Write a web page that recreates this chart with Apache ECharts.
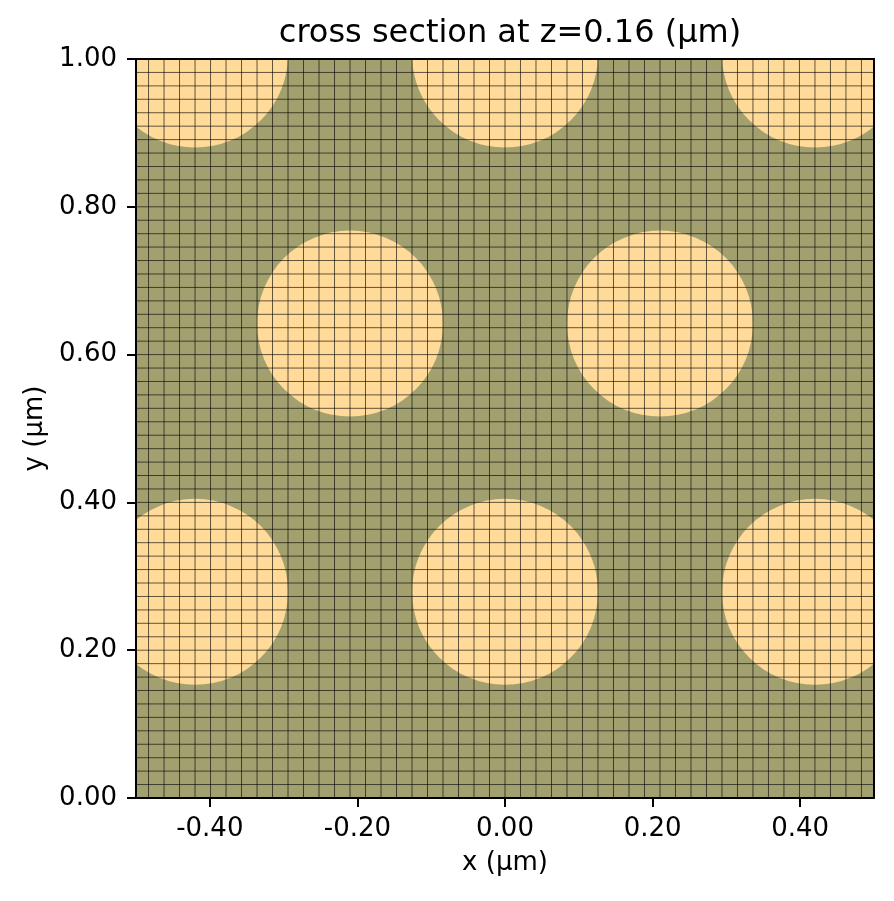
<!DOCTYPE html>
<html>
<head>
<meta charset="utf-8">
<script src="https://cdn.jsdelivr.net/npm/echarts@6/dist/echarts.min.js"></script>
<style>
  html, body { margin: 0; padding: 0; background: #fff; }
  #chart { width: 894px; height: 901px; }
</style>
</head>
<body>
<div id="chart"></div>
<script>
// circle centres (um) and radius
const circleX = [-0.42, 0.00, 0.42, -0.21, 0.21, -0.42, 0.00, 0.42];
const circleY = [0.279, 0.279, 0.279, 0.642, 0.642, 1.006, 1.006, 1.006];
const circleR = [0.126, 0.126, 0.126, 0.126, 0.126, 0.126, 0.126, 0.126];

// mesh lines
const xGrid = [-0.483, -0.462, -0.441, -0.420, -0.399, -0.378, -0.357, -0.336, -0.315, -0.294,
  -0.273, -0.252, -0.231, -0.210, -0.189, -0.168, -0.147, -0.126, -0.105, -0.084, -0.063,
  -0.042, -0.021, 0.000, 0.021, 0.042, 0.063, 0.084, 0.105, 0.126, 0.147, 0.168, 0.189,
  0.210, 0.231, 0.252, 0.273, 0.294, 0.315, 0.336, 0.357, 0.378, 0.399, 0.420, 0.441,
  0.462, 0.483];
const yGrid = [0.0182, 0.0364, 0.0545, 0.0727, 0.0909, 0.1091, 0.1273, 0.1455, 0.1636, 0.1818,
  0.2000, 0.2182, 0.2364, 0.2545, 0.2727, 0.2909, 0.3091, 0.3273, 0.3455, 0.3636, 0.3818,
  0.4000, 0.4182, 0.4364, 0.4545, 0.4727, 0.4909, 0.5091, 0.5273, 0.5455, 0.5636, 0.5818,
  0.6000, 0.6182, 0.6364, 0.6545, 0.6727, 0.6909, 0.7091, 0.7273, 0.7455, 0.7636, 0.7818,
  0.8000, 0.8182, 0.8364, 0.8545, 0.8727, 0.8909, 0.9091, 0.9273, 0.9455, 0.9636, 0.9818];

const xTicks = [-0.4, -0.2, 0, 0.2, 0.4];

const font = 'DejaVu Sans';
const fmt = v => Number(v).toFixed(2);

const chart = echarts.init(document.getElementById('chart'));

let option = {
    animation: false,
    title: {
        text: 'cross section at z=0.16 (μm)',
        left: 505,
        top: 13,
        textAlign: 'center',
        textStyle: { fontFamily: font, fontSize: 32, fontWeight: 'normal', color: '#000' }
    },
    grid: {
        left: 136, right: 20, top: 59, bottom: 103,
        show: true, backgroundColor: '#a3a070', borderWidth: 0
    },
    xAxis: [{
        type: 'value', min: -0.5, max: 0.5,
        position: 'bottom', z: 10,
        name: 'x (μm)', nameLocation: 'middle', nameGap: 52,
        nameTextStyle: { fontFamily: font, fontSize: 26, color: '#000' },
        axisLine: { onZero: false, lineStyle: { color: '#000', width: 2 } },
        axisTick: { show: true, inside: false, length: 9, customValues: xTicks, lineStyle: { color: '#000', width: 2 } },
        axisLabel: { customValues: xTicks, margin: 18, formatter: fmt, fontFamily: font, fontSize: 26, color: '#000' },
        splitLine: { show: false }
    }, {
        type: 'value', min: -0.5, max: 0.5, position: 'top', z: 10,
        axisLine: { onZero: false, lineStyle: { color: '#000', width: 2 } },
        axisTick: { show: false }, axisLabel: { show: false }, splitLine: { show: false }
    }],
    yAxis: [{
        type: 'value', min: 0, max: 1, interval: 0.2,
        position: 'left', z: 10,
        name: 'y (μm)', nameLocation: 'middle', nameGap: 88, nameRotate: 90,
        nameTextStyle: { fontFamily: font, fontSize: 26, color: '#000' },
        axisLine: { show: true, onZero: false, lineStyle: { color: '#000', width: 2 } },
        axisTick: { show: true, inside: false, length: 9, lineStyle: { color: '#000', width: 2 } },
        axisLabel: { margin: 19, formatter: fmt, fontFamily: font, fontSize: 26, color: '#000' },
        splitLine: { show: false }
    }, {
        type: 'value', min: 0, max: 1, position: 'right', z: 10,
        axisLine: { show: true, onZero: false, lineStyle: { color: '#000', width: 2 } },
        axisTick: { show: false }, axisLabel: { show: false }, splitLine: { show: false }
    }],
    series: [{
        type: 'custom',
        name: 'holes',
        clip: true,
        z: 2,
        data: circleX.map((x, i) => [x, circleY[i], circleR[i]]),
        encode: { x: 0, y: 1 },
        renderItem: (params, api) => {
            const c = api.coord([api.value(0), api.value(1)]);
            const r = api.size([api.value(2), 0])[0];
            return { type: 'circle', shape: { cx: c[0], cy: c[1], r: r }, style: { fill: '#ffda98' } };
        }
    }, {
        type: 'custom',
        name: 'xmesh',
        clip: true,
        z: 3,
        data: xGrid.map(x => [x, 0]),
        encode: { x: 0, y: 1 },
        renderItem: (params, api) => {
            const p0 = api.coord([api.value(0), 0]);
            const p1 = api.coord([api.value(0), 1]);
            return { type: 'line', shape: { x1: p0[0], y1: p0[1], x2: p1[0], y2: p1[1] },
                     style: { stroke: 'rgba(0,0,0,0.62)', lineWidth: 1 } };
        }
    }, {
        type: 'custom',
        name: 'ymesh',
        clip: true,
        z: 3,
        data: yGrid.map(y => [0, y]),
        encode: { x: 0, y: 1 },
        renderItem: (params, api) => {
            const p0 = api.coord([-0.5, api.value(1)]);
            const p1 = api.coord([0.5, api.value(1)]);
            return { type: 'line', shape: { x1: p0[0], y1: p0[1], x2: p1[0], y2: p1[1] },
                     style: { stroke: 'rgba(0,0,0,0.62)', lineWidth: 1 } };
        }
    }]
};

chart.setOption(option);
</script>
</body>
</html>
